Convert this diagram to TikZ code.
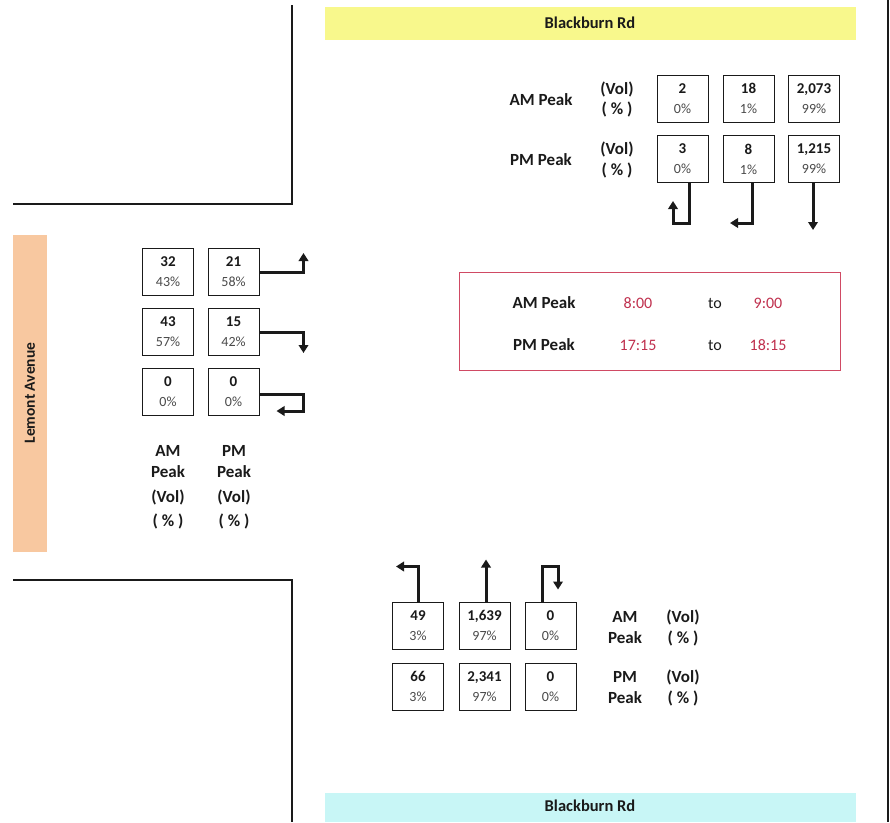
\documentclass[tikz,border=0pt]{standalone}
\usepackage{fontspec}
\setmainfont{Carlito}
\usetikzlibrary{arrows.meta,positioning,calc}
\definecolor{ink}{HTML}{1A1A1A}
\definecolor{pct}{HTML}{4A4A4A}
\definecolor{roadyel}{HTML}{F8F88C}
\definecolor{roadcyan}{HTML}{C8F6F6}
\definecolor{roadorg}{HTML}{F8C8A0}
\definecolor{timered}{HTML}{C0304E}
\definecolor{frame}{HTML}{D04A64}

\begin{document}
\begin{tikzpicture}[x=1pt,y=-1pt,>={Triangle[length=8pt,width=9.5pt]},
  cnt/.style={draw=ink,line width=1pt,minimum width=51pt,minimum height=47pt,inner sep=0pt,align=center,text=ink,font=\fontsize{15}{17}\selectfont\bfseries},
  lab/.style={text=ink,font=\fontsize{17}{20}\selectfont\bfseries},
  road/.style={line width=1.8pt,ink},
  mv/.style={->,line width=3pt,ink},
  bar/.style={font=\fontsize{16.5}{19}\selectfont\bfseries,text=ink}]
\useasboundingbox (0,0) rectangle (890,822);
\fill[white] (0,0) rectangle (890,822);
% streets
\fill[roadyel] (325,7) rectangle (856,40);
\node[bar] (bbN) at (590,23) {Blackburn Rd};
\fill[roadcyan] (325,793) rectangle (856,822);
\node[bar] (bbS) at (590,806) {Blackburn Rd};
\fill[roadorg] (13,235) rectangle (47,552);
\node[bar,rotate=90,font=\fontsize{15.5}{18}\selectfont\bfseries] (lem) at (30,393) {Lemont Avenue};
\draw[road] (292,5) -- (292,204) -- (13,204);
\draw[road] (13,580) -- (292,580) -- (292,822);
\draw[road] (888,0) -- (888,822);
% north approach
\node[lab] (nAl) at (541,100) {AM Peak};
\node[lab] (nAv) at (617,89) {(Vol)};
\node[lab] (nAp) at (617,109) {( \% )};
\node[lab] (nPl) at (541,160) {PM Peak};
\node[lab] (nPv) at (617,149) {(Vol)};
\node[lab] (nPp) at (617,170) {( \% )};
\foreach \c/\x/\av/\ap/\pv/\pp in {1/682.5/2/0/3/0,2/748.5/18/1/8/1,3/814/{2,073}/99/{1,215}/99}{
  \node[cnt] (nA\c) at (\x,98.5) {\av\\[3pt]{\mdseries\color{pct}\fontsize{14}{16}\selectfont\ap\%}};
  \node[cnt] (nP\c) at (\x,159) {\pv\\[3pt]{\mdseries\color{pct}\fontsize{14}{16}\selectfont\pp\%}};}
\draw[mv] ([xshift=6.5]nP1.south) -- ++(0,40) -- ++(-16,0) -- ++(0,-22);
\draw[mv] ([xshift=3.5]nP2.south) -- ++(0,40) -- ++(-22,0);
\draw[mv] ([xshift=-1]nP3.south) -- ++(0,47);
% west approach
\foreach \r/\y/\av/\ap/\pv/\pp in {1/272/32/43/21/58,2/332/43/57/15/42,3/392/0/0/0/0}{
  \node[cnt] (wA\r) at (168,\y) {\av\\[3pt]{\mdseries\color{pct}\fontsize{14}{16}\selectfont\ap\%}};
  \node[cnt] (wP\r) at (233.5,\y) {\pv\\[3pt]{\mdseries\color{pct}\fontsize{14}{16}\selectfont\pp\%}};}
\draw[mv] (wP1.east) -- ++(44,0) -- ++(0,-19);
\draw[mv] (wP2.east) -- ++(44,0) -- ++(0,21);
\draw[mv] ([yshift=-2]wP3.east) -- ++(44,0) -- ++(0,17) -- ++(-27,0);
\node[lab] (wAl) at (168,451) {AM};
\node[lab] (wAk) at (168,472) {Peak};
\node[lab] (wAv) at (168,497) {(Vol)};
\node[lab] (wAp) at (168,521) {( \% )};
\node[lab] (wPl) at (234,451) {PM};
\node[lab] (wPk) at (234,472) {Peak};
\node[lab] (wPv) at (234,497) {(Vol)};
\node[lab] (wPp) at (234,521) {( \% )};
% peak hours
\draw[frame,line width=1pt] (459,272) rectangle (840,370);
\foreach \r/\y/\pk/\ta/\tb in {1/303/AM/8:00/9:00,2/345/PM/17:15/18:15}{
  \node[lab] (pk\r) at (544,\y) {\pk\ Peak};
  \node[text=timered,font=\fontsize{16}{19}\selectfont] (ta\r) at (638,\y) {\ta};
  \node[text=ink,font=\fontsize{16}{19}\selectfont] (to\r) at (715,\y) {to};
  \node[text=timered,font=\fontsize{16}{19}\selectfont] (tb\r) at (768,\y) {\tb};}
% south approach
\foreach \c/\x/\av/\ap/\pv/\pp in {1/418/49/3/66/3,2/484.5/{1,639}/97/{2,341}/97,3/550.5/0/0/0/0}{
  \node[cnt] (sA\c) at (\x,625.5) {\av\\[3pt]{\mdseries\color{pct}\fontsize{14}{16}\selectfont\ap\%}};
  \node[cnt] (sP\c) at (\x,686.5) {\pv\\[3pt]{\mdseries\color{pct}\fontsize{14}{16}\selectfont\pp\%}};}
\draw[mv] (sA1.north) -- ++(0,-35) -- ++(-22,0);
\draw[mv] ([xshift=1.5]sA2.north) -- ++(0,-42);
\draw[mv] ([xshift=-8.5]sA3.north) -- ++(0,-35) -- ++(16,0) -- ++(0,23);
\node[lab] (sAl) at (625,617) {AM};
\node[lab] (sAk) at (625,638) {Peak};
\node[lab] (sAv) at (683,617) {(Vol)};
\node[lab] (sAp) at (683,638) {( \% )};
\node[lab] (sPl) at (625,677) {PM};
\node[lab] (sPk) at (625,698) {Peak};
\node[lab] (sPv) at (683,677) {(Vol)};
\node[lab] (sPp) at (683,698) {( \% )};
\end{tikzpicture}
\end{document}
